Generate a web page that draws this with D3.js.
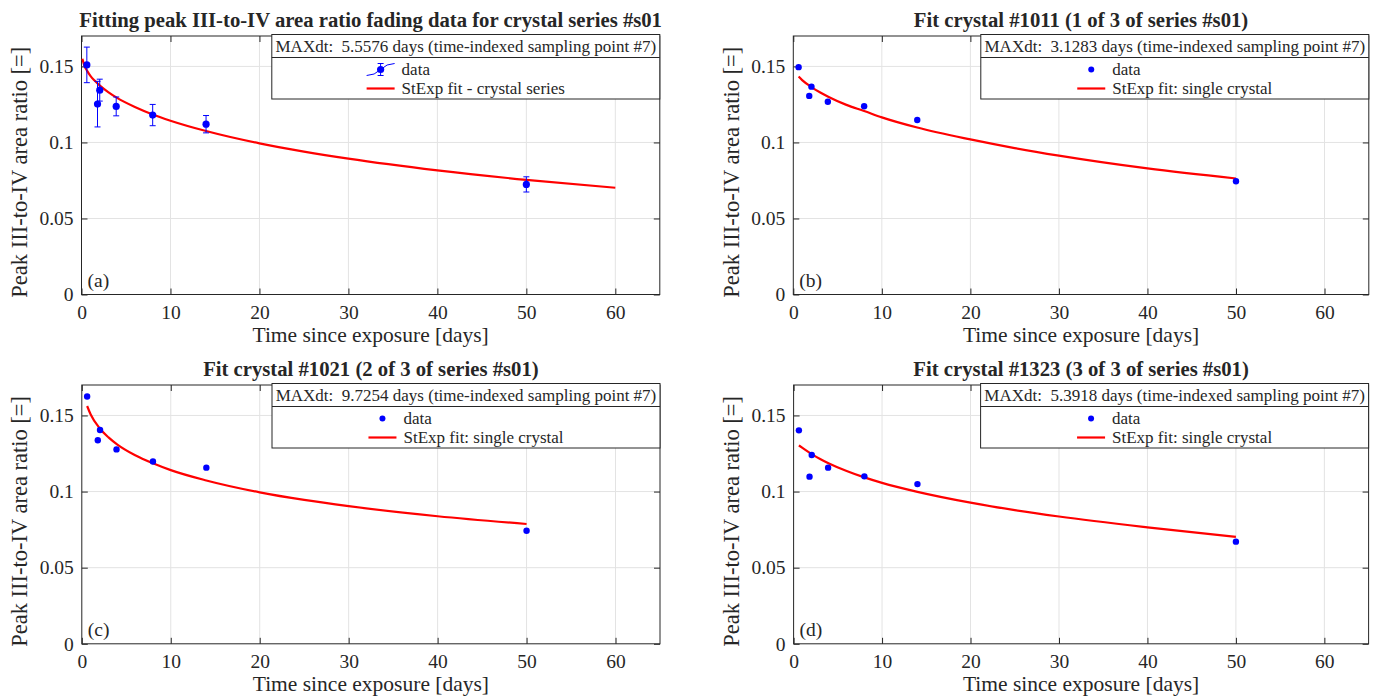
<!DOCTYPE html>
<html>
<head>
<meta charset="utf-8">
<script src="https://cdn.jsdelivr.net/npm/d3@7"></script>
<style>
  body { margin: 0; background: #ffffff; }
  svg text { font-family: "Liberation Serif", "Times New Roman", serif; fill: #262626; }
</style>
</head>
<body>
<svg id="fig" width="1380" height="698" font-family="Liberation Serif, Times New Roman, serif"></svg>
<script>
// ---- sampling times (days since exposure) ----
const days = [0.6, 1.8, 2.05, 3.9, 8, 14, 50];

// ---- peak III-to-IV area ratio per crystal ----
const ratio1011 = [0.1495, 0.1306, 0.1367, 0.1268, 0.1238, 0.1148, 0.0745];
const ratio1021 = [0.1624, 0.1337, 0.1404, 0.1277, 0.1197, 0.1157, 0.0743];
const ratio1323 = [0.1402, 0.1098, 0.1240, 0.1157, 0.1100, 0.1049, 0.0671];

// ---- series mean and spread ----
const seriesMean = [0.1510, 0.1252, 0.1344, 0.1237, 0.1180, 0.1120, 0.0724];
const seriesErr  = [0.0117, 0.0150, 0.0072, 0.0062, 0.0070, 0.0057, 0.0050];

// ---- stretched-exponential fit curves ----
const fitDaysSeries = [0.1, 0.3, 0.6, 1, 1.5, 2, 3, 4, 6, 8, 10, 14, 20, 25, 30, 40, 50, 60];
const fitSeries     = [0.1550, 0.1509, 0.1474, 0.1438, 0.1405, 0.1377, 0.1331, 0.1293, 0.1233, 0.1184,
                       0.1143, 0.1075, 0.0994, 0.0940, 0.0893, 0.0816, 0.0754, 0.0702];
const fitDaysCrystal = [0.6, 1, 2, 3, 4, 6, 8, 10, 14, 20, 25, 30, 40, 50];
const fit1011 = [0.1433, 0.1410, 0.1366, 0.1330, 0.1299, 0.1247, 0.1207, 0.1165, 0.1098, 0.1020, 0.0963, 0.0913, 0.0829, 0.0763];
const fit1021 = [0.1562, 0.1506, 0.1416, 0.1356, 0.1309, 0.1239, 0.1186, 0.1141, 0.1073, 0.0995, 0.0945, 0.0904, 0.0838, 0.0787];
const fit1323 = [0.1303, 0.1287, 0.1248, 0.1214, 0.1185, 0.1135, 0.1093, 0.1057, 0.0998, 0.0927, 0.0878, 0.0836, 0.0765, 0.0702];

// ---- axis ticks ----
const xTicks = [0, 10, 20, 30, 40, 50, 60];
const xTickLabels = ["0", "10", "20", "30", "40", "50", "60"];
const yTicks = [0, 0.05, 0.1, 0.15];
const yTickLabels = ["0", "0.05", "0.1", "0.15"];

// ---- texts ----
const titles = [
  "Fitting peak III-to-IV area ratio fading data for crystal series #s01",
  "Fit crystal #1011 (1 of 3 of series #s01)",
  "Fit crystal #1021 (2 of 3 of series #s01)",
  "Fit crystal #1323 (3 of 3 of series #s01)"
];
const legendTitles = [
  "MAXdt:  5.5576 days (time-indexed sampling point #7)",
  "MAXdt:  3.1283 days (time-indexed sampling point #7)",
  "MAXdt:  9.7254 days (time-indexed sampling point #7)",
  "MAXdt:  5.3918 days (time-indexed sampling point #7)"
];
const fitLabels = ["StExp fit - crystal series", "StExp fit: single crystal", "StExp fit: single crystal", "StExp fit: single crystal"];
const panelTags = ["(a)", "(b)", "(c)", "(d)"];
const xLabel = "Time since exposure [days]";
const yLabel = "Peak III-to-IV area ratio [=]";

const BLUE = "#0000ff", RED = "#ff0000", AX = "#262626", GRID = "#e3e3e3";
const FONT = "Liberation Serif, Times New Roman, serif";

const svg = d3.select("#fig");

const boxes = [
  { x0: 81.5, x1: 659.8, y0: 36, y1: 294.5 },
  { x0: 793.3, x1: 1368.8, y0: 36, y1: 294.5 },
  { x0: 81.8, x1: 660, y0: 385, y1: 643.8 },
  { x0: 793.6, x1: 1368.6, y0: 385, y1: 643.8 }
];

const panels = [
  { box: boxes[0], yPts: seriesMean, err: seriesErr, fitX: fitDaysSeries, fitY: fitSeries },
  { box: boxes[1], yPts: ratio1011, err: null, fitX: fitDaysCrystal, fitY: fit1011 },
  { box: boxes[2], yPts: ratio1021, err: null, fitX: fitDaysCrystal, fitY: fit1021 },
  { box: boxes[3], yPts: ratio1323, err: null, fitX: fitDaysCrystal, fitY: fit1323 }
];

panels.forEach((p, i) => drawPanel(p, i));

function drawPanel(p, i) {
  const b = p.box;
  const g = svg.append("g").attr("font-family", FONT);
  const x = d3.scaleLinear().domain([0, 65]).range([b.x0, b.x1]);
  const y = d3.scaleLinear().domain([0, 0.17]).range([b.y1, b.y0]);

  // white plot area
  g.append("rect").attr("x", b.x0).attr("y", b.y0)
    .attr("width", b.x1 - b.x0).attr("height", b.y1 - b.y0).attr("fill", "#fff");

  // grid
  g.append("g").selectAll("line").data(xTicks.slice(1)).join("line")
    .attr("x1", d => x(d)).attr("x2", d => x(d)).attr("y1", b.y0).attr("y2", b.y1)
    .attr("stroke", GRID).attr("stroke-width", 1);
  g.append("g").selectAll("line").data(yTicks.slice(1)).join("line")
    .attr("y1", d => y(d)).attr("y2", d => y(d)).attr("x1", b.x0).attr("x2", b.x1)
    .attr("stroke", GRID).attr("stroke-width", 1);

  // axes with inward ticks
  const fs = "19.5px";
  const ax = g.append("g").attr("transform", `translate(0,${b.y1})`)
    .call(d3.axisBottom(x).tickValues(xTicks).tickFormat((d, k) => xTickLabels[k])
      .tickSizeInner(-6).tickSizeOuter(0).tickPadding(10.5));
  const axT = g.append("g").attr("transform", `translate(0,${b.y0})`)
    .call(d3.axisTop(x).tickValues(xTicks).tickFormat("").tickSizeInner(-6).tickSizeOuter(0));
  const ay = g.append("g").attr("transform", `translate(${b.x0},0)`)
    .call(d3.axisLeft(y).tickValues(yTicks).tickFormat((d, k) => yTickLabels[k])
      .tickSizeInner(-6).tickSizeOuter(0).tickPadding(8));
  const ayR = g.append("g").attr("transform", `translate(${b.x1},0)`)
    .call(d3.axisRight(y).tickValues(yTicks).tickFormat("").tickSizeInner(-6).tickSizeOuter(0));
  [ax, axT, ay, ayR].forEach(a => {
    a.attr("font-family", FONT).attr("font-size", fs);
    a.select(".domain").remove();
    a.selectAll(".tick line").attr("stroke", AX);
    a.selectAll("text").attr("font-size", fs).attr("font-family", FONT).attr("fill", AX);
  });

  // box
  g.append("rect").attr("x", b.x0).attr("y", b.y0)
    .attr("width", b.x1 - b.x0).attr("height", b.y1 - b.y0)
    .attr("fill", "none").attr("stroke", AX).attr("stroke-width", 1);

  // fit curve
  const line = d3.line().x((d, k) => x(p.fitX[k])).y(d => y(d)).curve(d3.curveMonotoneX);
  g.append("path").attr("d", line(p.fitY))
    .attr("fill", "none").attr("stroke", RED).attr("stroke-width", 2.2);

  // error bars
  if (p.err) {
    const eb = g.append("g").attr("stroke", BLUE).attr("stroke-width", 1);
    days.forEach((t, k) => {
      const cx = x(t), lo = y(p.yPts[k] - p.err[k]), hi = y(p.yPts[k] + p.err[k]);
      eb.append("line").attr("x1", cx).attr("x2", cx).attr("y1", lo).attr("y2", hi);
      eb.append("line").attr("x1", cx - 3).attr("x2", cx + 3).attr("y1", lo).attr("y2", lo);
      eb.append("line").attr("x1", cx - 3).attr("x2", cx + 3).attr("y1", hi).attr("y2", hi);
    });
  }

  // data points
  g.append("g").selectAll("circle").data(p.yPts).join("circle")
    .attr("cx", (d, k) => x(days[k])).attr("cy", d => y(d))
    .attr("r", p.err ? 3.6 : 3.2).attr("fill", BLUE);

  // panel tag
  g.append("text").attr("x", b.x0 + 6).attr("y", b.y1 - 8)
    .attr("font-size", "19.5px").text(panelTags[i]);

  // title
  g.append("text").attr("x", (b.x0 + b.x1) / 2).attr("y", b.y0 - 9.5)
    .attr("text-anchor", "middle").attr("font-weight", "bold").attr("font-size", "20.7px")
    .attr("fill", "#000").text(titles[i]);

  // axis labels
  g.append("text").attr("x", (b.x0 + b.x1) / 2).attr("y", b.y1 + 47.5)
    .attr("text-anchor", "middle").attr("font-size", "21.5px").text(xLabel);
  const ly = (b.y0 + b.y1) / 2 + 7, lx = b.x0 - 54.5;
  g.append("text").attr("transform", `translate(${lx},${ly}) rotate(-90)`)
    .attr("text-anchor", "middle").attr("font-size", "22.5px").text(yLabel);

  // legend
  const lw = 388, lh = 64.5;
  const lx0 = b.x1 - lw, ly0 = b.y0 - 1.5;
  const lg = g.append("g");
  lg.append("rect").attr("x", lx0).attr("y", ly0).attr("width", lw).attr("height", lh)
    .attr("fill", "#fff").attr("stroke", AX).attr("stroke-width", 1);
  lg.append("line").attr("x1", lx0).attr("x2", lx0 + lw).attr("y1", ly0 + 23).attr("y2", ly0 + 23)
    .attr("stroke", AX).attr("stroke-width", 1);
  lg.append("text").attr("x", lx0 + lw / 2).attr("y", ly0 + 17.5)
    .attr("text-anchor", "middle").attr("font-size", "17px")
    .style("white-space", "pre").text(legendTitles[i]);

  const r1 = ly0 + 35, r2 = ly0 + 54;
  const t1 = lg.append("text").attr("y", r1 + 5.5).attr("font-size", "17px").text("data");
  const t2 = lg.append("text").attr("y", r2 + 5.5).attr("font-size", "17px").text(fitLabels[i]);
  const iconW = 28, gap = 7;
  const tw = Math.max(t1.node().getComputedTextLength(), t2.node().getComputedTextLength());
  const left = lx0 + lw / 2 - (iconW + gap + tw) / 2;
  const tx = left + iconW + gap;
  t1.attr("x", tx); t2.attr("x", tx);
  const ic = left + iconW / 2;
  if (p.err) {
    lg.append("path")
      .attr("d", `M${ic - 14},${r1 + 6} Q${ic - 6},${r1 + 6} ${ic},${r1} T${ic + 14},${r1 - 6}`)
      .attr("fill", "none").attr("stroke", BLUE).attr("stroke-width", 1);
    lg.append("line").attr("x1", ic).attr("x2", ic).attr("y1", r1 - 6).attr("y2", r1 + 6)
      .attr("stroke", BLUE);
    lg.append("line").attr("x1", ic - 3).attr("x2", ic + 3).attr("y1", r1 - 6).attr("y2", r1 - 6).attr("stroke", BLUE);
    lg.append("line").attr("x1", ic - 3).attr("x2", ic + 3).attr("y1", r1 + 6).attr("y2", r1 + 6).attr("stroke", BLUE);
    lg.append("circle").attr("cx", ic).attr("cy", r1).attr("r", 3.6).attr("fill", BLUE);
  } else {
    lg.append("circle").attr("cx", ic).attr("cy", r1).attr("r", 3).attr("fill", BLUE);
  }
  lg.append("line").attr("x1", left).attr("x2", left + iconW).attr("y1", r2).attr("y2", r2)
    .attr("stroke", RED).attr("stroke-width", 2.2);
}
</script>
</body>
</html>
